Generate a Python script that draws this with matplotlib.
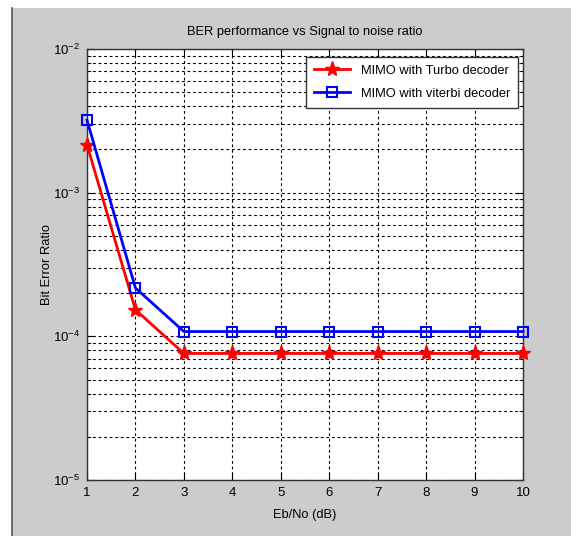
import matplotlib
matplotlib.use("Agg")
import matplotlib.pyplot as plt
from matplotlib.patches import Rectangle
from matplotlib.lines import Line2D

# data
ebno = [1, 2, 3, 4, 5, 6, 7, 8, 9, 10]
ber_turbo = [2.15e-3, 1.53e-4, 7.6e-5, 7.6e-5, 7.6e-5, 7.6e-5, 7.6e-5, 7.6e-5, 7.6e-5, 7.6e-5]
ber_viterbi = [3.2e-3, 2.17e-4, 1.08e-4, 1.08e-4, 1.08e-4, 1.08e-4, 1.08e-4, 1.08e-4, 1.08e-4, 1.08e-4]
labels = ["MIMO with Turbo decoder", "MIMO with viterbi decoder"]

plt.rcParams["font.family"] = ["Liberation Sans", "DejaVu Sans"]
plt.rcParams["mathtext.fontset"] = "custom"
plt.rcParams["mathtext.rm"] = "Liberation Sans"
plt.rcParams["mathtext.it"] = "Liberation Sans"

fig = plt.figure(figsize=(5.71, 5.36), dpi=100, facecolor="white")
W, H = 571, 536

# matlab-ish grey window area
fig.patches.append(Rectangle((12 / W, 0), 1 - 12 / W, 1 - 8 / H, transform=fig.transFigure,
                             facecolor="#cccccc", edgecolor="none", zorder=-10))
fig.lines.append(Line2D([12 / W, 12 / W], [0, 1 - 8 / H], transform=fig.transFigure,
                        color="#555555", lw=1.2, zorder=-9))

ax = fig.add_axes([87 / W, (H - 480) / H, (523 - 87) / W, (480 - 49) / H])
ax.set_facecolor("white")

ax.semilogy(ebno, ber_turbo, "r-*", lw=2, markersize=11, label=labels[0], clip_on=False, zorder=4)
ax.semilogy(ebno, ber_viterbi, "b-s", lw=2, markersize=7, markerfacecolor="none",
            markeredgewidth=1.5, label=labels[1], clip_on=False, zorder=4)

ax.set_xlim(1, 10)
ax.set_ylim(1e-5, 1e-2)
ax.set_xticks(ebno)

ax.grid(True, which="major", color="black", linestyle=(0, (2.5, 2.5)), lw=0.8)
ax.grid(True, which="minor", axis="y", color="black", linestyle=(0, (2.5, 2.5)), lw=0.8)
ax.tick_params(which="both", direction="in", top=True, right=True, labelsize=9.5)
ax.tick_params(which="major", length=5, pad=5)
ax.tick_params(which="minor", length=3)
for s in ax.spines.values():
    s.set_linewidth(1)
    s.set_color("#333333")

ax.set_title("BER performance vs Signal to noise ratio", fontsize=9.3, pad=10)
ax.set_xlabel("Eb/No (dB)", fontsize=9.3, labelpad=7)
ax.set_ylabel("Bit Error Ratio", fontsize=9.3, labelpad=0)

leg = ax.legend(loc="upper right", fontsize=9.3, fancybox=False, framealpha=1,
                edgecolor="#333333", borderpad=0.6, handlelength=2.8, labelspacing=0.85,
                borderaxespad=0, bbox_to_anchor=(0.988, 0.981))
leg.get_frame().set_linewidth(1)

fig.savefig("out.png", dpi=100, facecolor=fig.get_facecolor())
